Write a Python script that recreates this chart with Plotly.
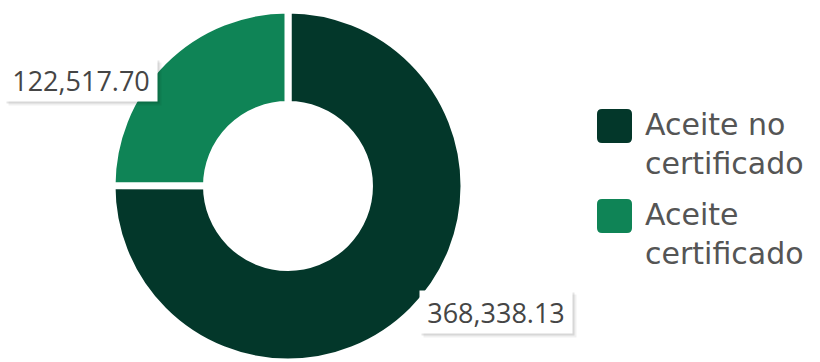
import math
import plotly.graph_objects as go

# Data
categories = ["Aceite no certificado", "Aceite certificado"]
values = [368338.13, 122517.70]
legend_text = ["Aceite no<br>certificado", "Aceite<br>certificado"]
colors = ["#03372A", "#0F8456"]

# Canvas and donut geometry (pixels)
W, H = 820, 362
CX, CY, R = 288, 186, 176
HOLE = 0.463


def px(x):
    return x / W


def py(y):
    return 1 - y / H


fig = go.Figure(
    go.Pie(
        labels=categories,
        values=values,
        sort=False,
        direction="clockwise",
        rotation=0,
        hole=HOLE,
        textinfo="none",
        hoverinfo="label+value",
        showlegend=False,
        marker=dict(colors=colors, line=dict(color="white", width=7)),
        domain=dict(x=[px(CX - R), px(CX + R)], y=[0, (2 * R) / H]),
    )
)

# Value labels anchored at the outer edge of each slice's middle angle
total = sum(values)
label_style = [
    dict(xanchor="left", yanchor="middle", xshift=7, yshift=-1),
    dict(xanchor="right", yanchor="top", xshift=-6, yshift=3),
]
annotations = []
cum = 0.0
for v, st in zip(values, label_style):
    mid = (cum + v / 2) / total * 2 * math.pi
    cum += v
    ax = CX + R * math.sin(mid)
    ay = CY - R * math.cos(mid)
    common = dict(
        x=px(ax), y=py(ay), xref="paper", yref="paper", showarrow=False,
        width=144, height=34, borderpad=4, align="center",
        xanchor=st["xanchor"], yanchor=st["yanchor"],
    )
    # soft drop shadow boxes
    for dx, alpha in ((4, 0.06), (2, 0.10)):
        annotations.append(dict(
            common, text="&nbsp;",
            xshift=st["xshift"] + dx, yshift=st["yshift"] - dx,
            bgcolor=f"rgba(0,0,0,{alpha})",
            font=dict(family="Open Sans", size=27, color="rgba(0,0,0,0)"),
        ))
    annotations.append(dict(
        common, text=f"{v:,.2f}",
        xshift=st["xshift"], yshift=st["yshift"], bgcolor="white",
        font=dict(family="Open Sans", size=27, color="#454545"),
    ))

# Custom legend with large rounded swatches
shapes = []
LX0, LY0, SW, STEP, RAD = 597, 109, 35, 90, 5
for i, (lbl, col) in enumerate(zip(legend_text, colors)):
    x0, y0 = LX0, LY0 + i * STEP
    x1, y1 = x0 + SW, y0 + SW - 1
    r = RAD
    path = (
        f"M{px(x0 + r)},{py(y0)} L{px(x1 - r)},{py(y0)} "
        f"Q{px(x1)},{py(y0)} {px(x1)},{py(y0 + r)} "
        f"L{px(x1)},{py(y1 - r)} Q{px(x1)},{py(y1)} {px(x1 - r)},{py(y1)} "
        f"L{px(x0 + r)},{py(y1)} Q{px(x0)},{py(y1)} {px(x0)},{py(y1 - r)} "
        f"L{px(x0)},{py(y0 + r)} Q{px(x0)},{py(y0)} {px(x0 + r)},{py(y0)} Z"
    )
    shapes.append(dict(type="path", xref="paper", yref="paper", path=path,
                       fillcolor=col, line=dict(width=0)))
    annotations.append(dict(
        x=px(643), y=py(144 + i * STEP), xref="paper", yref="paper",
        xanchor="left", yanchor="middle", showarrow=False, align="left",
        text=lbl, font=dict(family="DejaVu Sans", size=30, color="#555555"),
    ))

fig.update_layout(
    width=W, height=H,
    margin=dict(l=0, r=0, t=0, b=0),
    paper_bgcolor="white", plot_bgcolor="white",
    annotations=annotations, shapes=shapes,
)

fig.write_html("out.html")
